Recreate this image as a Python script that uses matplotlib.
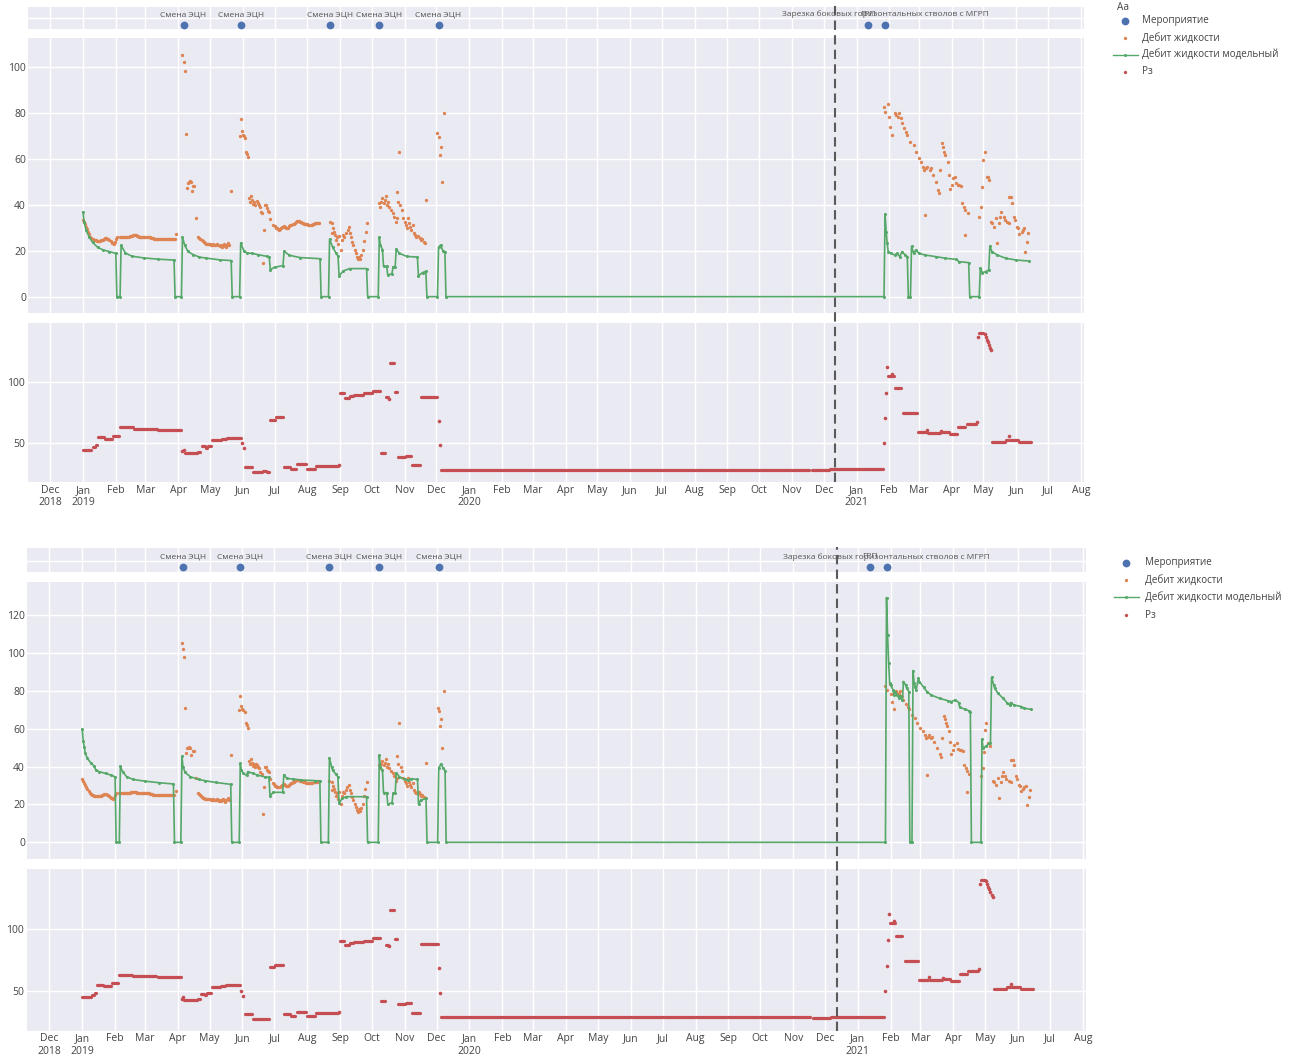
#!/usr/bin/env python3
"""Liquid rate (fact vs model) and bottom-hole pressure, two model variants."""
import matplotlib
matplotlib.use('Agg')
import matplotlib.pyplot as plt
import matplotlib.dates as mdates
from matplotlib.lines import Line2D
import pandas as pd

plt.rcParams['font.family'] = ['Open Sans', 'DejaVu Sans']

# ---------------- events ----------------
EVENT_DATES = ['2019-04-06', '2019-05-30', '2019-08-22', '2019-10-08',
               '2019-12-03', '2021-01-12', '2021-01-28']
EVENT_LABELS = ['Смена ЭЦН', 'Смена ЭЦН', 'Смена ЭЦН', 'Смена ЭЦН', 'Смена ЭЦН',
                'ГРП', 'Зарезка боковых горизонтальных стволов с МГРП']
CUT_DATE = '2020-12-12'

# ---------------- measured liquid rate ----------------
# dense daily runs: start date + daily values
ORANGE_RUN_STARTS = ['2019-01-01', '2019-02-05', '2019-04-20', '2019-06-30']
ORANGE_RUN_JAN = [33.3, 32.6, 31.5, 30.4, 29.3, 28.3, 27.2, 26.1, 25.5, 25.0, 24.8,
                  24.6, 24.5, 24.4, 24.3, 24.3, 24.4, 24.5, 24.6, 24.8, 25.0, 25.3,
                  25.4, 25.2, 24.9, 24.5, 24.0, 23.5, 23.2, 22.9, 23.6, 24.9, 25.8]
ORANGE_RUN_FEB = [25.8, 25.8, 25.9, 25.9, 26.0, 26.0, 25.9, 26.0, 26.1, 26.2, 26.3,
                  26.5, 26.7, 26.8, 26.8, 26.6, 26.4, 26.2, 26.1, 26.0, 26.0, 25.9,
                  25.9, 25.8, 25.8, 25.8, 25.8, 25.8, 25.8, 25.7, 25.6, 25.4, 25.2,
                  25.0, 24.9, 24.9, 24.9, 24.9, 24.9, 24.9, 24.9, 24.9, 24.9, 24.9,
                  24.9, 24.9, 24.9, 24.9, 24.9, 24.9, 24.9, 24.9, 24.9]
ORANGE_RUN_APR = [26.1, 25.6, 25.0, 24.5, 24.0, 23.6, 23.3, 23.1, 23.0, 23.0, 22.8,
                  22.8, 22.5, 22.6, 22.8, 22.5, 22.3, 22.5, 22.8, 22.3, 22.0, 22.5,
                  21.8, 22.2, 23.0, 22.5, 21.5, 22.5, 23.2, 22.5]
ORANGE_RUN_JUL = [31.2, 30.6, 30.0, 29.7, 29.3, 29.0, 29.4, 29.8, 30.1, 30.4, 30.7,
                  30.4, 30.0, 29.7, 30.0, 30.5, 31.0, 31.2, 31.5, 31.8, 31.9, 32.3,
                  32.8, 33.0, 32.8, 32.6, 32.4, 32.2, 32.0, 31.8, 31.6, 31.5, 31.4,
                  31.3, 31.2, 31.2, 31.3, 31.5, 31.7, 31.9, 32.0, 32.1, 32.2, 32.2]
ORANGE_RUNS = [ORANGE_RUN_JAN, ORANGE_RUN_FEB, ORANGE_RUN_APR, ORANGE_RUN_JUL]

# scattered measurements
ORANGE_DATES = [
    '2019-03-30',
    '2019-04-05', '2019-04-06', '2019-04-07', '2019-04-08', '2019-04-09', '2019-04-10',
    '2019-04-11', '2019-04-12', '2019-04-13', '2019-04-14', '2019-04-15', '2019-04-16',
    '2019-04-18', '2019-05-21',
    '2019-05-29', '2019-05-30', '2019-05-31', '2019-06-01', '2019-06-02', '2019-06-03',
    '2019-06-04', '2019-06-05', '2019-06-06',
    '2019-06-07', '2019-06-08', '2019-06-09', '2019-06-10', '2019-06-11', '2019-06-12',
    '2019-06-13', '2019-06-14', '2019-06-15', '2019-06-16', '2019-06-17', '2019-06-18',
    '2019-06-19', '2019-06-20', '2019-06-21', '2019-06-22', '2019-06-23', '2019-06-24',
    '2019-06-25', '2019-06-26', '2019-06-27',
    '2019-08-22', '2019-08-24', '2019-08-24', '2019-08-25', '2019-08-26', '2019-08-27',
    '2019-08-28', '2019-08-29', '2019-08-30', '2019-08-31', '2019-09-02', '2019-09-03',
    '2019-09-04', '2019-09-05', '2019-09-07', '2019-09-08', '2019-09-09', '2019-09-10',
    '2019-09-11', '2019-09-12', '2019-09-13', '2019-09-15', '2019-09-16', '2019-09-17',
    '2019-09-18', '2019-09-19', '2019-09-20', '2019-09-21', '2019-09-23', '2019-09-24',
    '2019-09-25', '2019-09-26',
    '2019-10-08', '2019-10-09', '2019-10-10', '2019-10-11', '2019-10-12', '2019-10-13',
    '2019-10-14', '2019-10-15', '2019-10-16', '2019-10-17', '2019-10-19', '2019-10-21',
    '2019-10-22', '2019-10-24', '2019-10-25', '2019-10-25', '2019-10-26', '2019-10-27',
    '2019-10-28', '2019-10-29', '2019-10-30', '2019-11-01', '2019-11-02', '2019-11-03',
    '2019-11-04', '2019-11-05', '2019-11-06', '2019-11-07', '2019-11-09', '2019-11-10',
    '2019-11-11', '2019-11-12', '2019-11-14', '2019-11-15', '2019-11-16', '2019-11-17',
    '2019-11-19', '2019-11-20', '2019-11-21',
    '2019-12-02', '2019-12-03', '2019-12-04', '2019-12-05', '2019-12-06', '2019-12-08',
    '2021-01-27', '2021-01-28', '2021-01-31', '2021-02-01', '2021-02-02', '2021-02-04',
    '2021-02-06', '2021-02-07', '2021-02-09', '2021-02-10', '2021-02-12', '2021-02-13',
    '2021-02-15', '2021-02-17', '2021-02-18', '2021-02-21', '2021-02-24', '2021-02-26',
    '2021-03-01', '2021-03-03', '2021-03-05', '2021-03-06', '2021-03-08', '2021-03-09',
    '2021-03-11', '2021-03-12', '2021-03-14', '2021-03-07', '2021-03-17', '2021-03-19',
    '2021-03-20', '2021-03-21', '2021-03-23', '2021-03-24', '2021-03-25', '2021-03-26',
    '2021-03-28', '2021-03-29', '2021-03-30', '2021-04-01', '2021-04-02', '2021-04-04',
    '2021-04-05', '2021-04-07', '2021-04-08', '2021-04-10', '2021-04-11', '2021-04-13',
    '2021-04-14', '2021-04-16', '2021-04-14', '2021-04-27', '2021-04-29', '2021-04-30',
    '2021-05-01', '2021-05-02', '2021-05-04', '2021-05-05', '2021-05-06', '2021-05-08',
    '2021-05-09', '2021-05-11', '2021-05-13', '2021-05-14', '2021-05-16', '2021-05-17',
    '2021-05-18', '2021-05-20', '2021-05-21', '2021-05-23', '2021-05-25', '2021-05-25',
    '2021-05-27', '2021-05-28', '2021-05-30', '2021-05-31', '2021-06-02', '2021-06-03',
    '2021-06-04', '2021-06-06', '2021-06-07', '2021-06-08', '2021-06-09', '2021-06-11',
    '2021-06-12',
]
ORANGE_VALUES = [
    27.1,
    105.1, 102.2, 98.1, 70.7, 47.1, 49.6,
    50.0, 50.4, 50.0, 46.1, 48.1, 48.1,
    34.1, 45.9,
    69.9, 77.1, 72.2, 70.3, 69.9, 68.8,
    63.0, 62.0, 60.6,
    42.8, 41.3, 43.8, 42.0, 40.3, 41.3,
    39.9, 41.5, 40.9, 40.0, 39.1, 37.0,
    36.2, 14.8, 29.0, 39.9, 39.9, 38.4,
    37.4, 37.0, 33.6,
    32.6, 31.9, 27.5, 30.0, 28.3, 26.8,
    24.6, 26.1, 22.9, 26.4, 20.3, 24.6,
    26.8, 26.1, 27.5, 29.0, 30.4, 27.5,
    26.1, 23.9, 22.5, 20.3, 18.8, 17.1,
    16.2, 17.4, 16.5, 18.1, 20.3, 24.3,
    28.3, 31.9,
    40.6, 39.1, 41.3, 42.8, 40.9, 42.0,
    43.8, 39.9, 41.3, 39.1, 37.7, 36.5,
    34.8, 32.6, 45.7, 34.1, 41.3, 63.0,
    39.9, 37.7, 34.1, 32.6, 31.2, 29.7,
    34.1, 31.9, 30.4, 29.0, 31.2, 27.8,
    26.8, 26.1, 26.4, 25.4, 24.6, 25.2,
    23.9, 23.5, 42.0,
    71.0, 69.3, 61.6, 65.2, 50.0, 80.0,
    82.6, 80.4, 83.8, 78.3, 73.9, 70.3,
    79.7, 79.0, 78.3, 79.7, 77.5, 75.4,
    73.2, 71.7, 70.3, 67.4, 65.9, 63.0,
    60.1, 58.7, 56.5, 55.1, 55.8, 56.5,
    55.1, 55.8, 52.9, 35.5, 50.0, 46.4,
    44.9, 55.1, 66.7, 65.2, 63.0, 61.6,
    58.7, 52.9, 46.7, 48.6, 51.4, 52.2,
    49.3, 48.6, 48.6, 48.1, 40.9, 39.1,
    37.7, 36.2, 26.8, 34.8, 39.1, 47.8,
    59.4, 63.0, 52.2, 52.2, 50.7, 32.6,
    31.9, 30.4, 34.1, 23.5, 31.9, 34.8,
    37.0, 34.8, 33.3, 32.6, 31.9, 43.5,
    43.5, 40.9, 34.8, 33.3, 30.4, 29.7,
    27.2, 28.3, 29.0, 29.7, 19.6, 23.9,
    27.5,
]

# ---------------- model liquid rate, variant 1 ----------------
MODEL1_DATES = [
    '2019-01-01', '2019-01-02', '2019-01-04', '2019-01-07', '2019-01-10', '2019-01-15',
    '2019-01-20', '2019-01-26', '2019-02-01', '2019-02-02', '2019-02-05', '2019-02-06',
    '2019-02-10', '2019-02-16', '2019-02-28', '2019-03-13', '2019-03-28', '2019-03-29',
    '2019-04-04', '2019-04-05', '2019-04-07', '2019-04-10', '2019-04-15', '2019-04-21',
    '2019-04-27', '2019-05-10', '2019-05-21', '2019-05-22', '2019-05-29', '2019-05-30',
    '2019-06-02', '2019-06-05', '2019-06-10', '2019-06-15', '2019-06-24', '2019-06-26',
    '2019-06-27', '2019-07-01', '2019-07-09', '2019-07-10', '2019-07-15', '2019-07-25',
    '2019-08-13', '2019-08-14', '2019-08-21', '2019-08-22', '2019-08-25', '2019-08-28',
    '2019-08-30', '2019-08-31', '2019-09-04', '2019-09-10', '2019-09-26', '2019-09-27',
    '2019-10-07', '2019-10-08', '2019-10-09', '2019-10-11', '2019-10-12', '2019-10-15',
    '2019-10-16', '2019-10-20', '2019-10-21', '2019-10-23', '2019-10-24', '2019-10-27',
    '2019-11-03', '2019-11-13', '2019-11-14', '2019-11-18', '2019-11-21', '2019-11-22',
    '2019-12-02', '2019-12-03', '2019-12-05', '2019-12-07', '2019-12-09', '2019-12-10',
    '2021-01-27', '2021-01-28', '2021-01-29', '2021-01-30', '2021-01-31', '2021-02-03',
    '2021-02-06', '2021-02-08', '2021-02-11', '2021-02-13', '2021-02-16', '2021-02-18',
    '2021-02-19', '2021-02-21', '2021-02-22', '2021-02-24', '2021-02-26', '2021-03-01',
    '2021-03-07', '2021-03-17', '2021-03-26', '2021-04-05', '2021-04-08', '2021-04-17',
    '2021-04-18', '2021-04-27', '2021-04-28', '2021-04-30', '2021-05-03', '2021-05-06',
    '2021-05-07', '2021-05-09', '2021-05-14', '2021-05-22', '2021-06-01', '2021-06-13',
]
MODEL1_VALUES = [
    36.8, 32.5, 28.8, 25.8, 23.6, 21.4,
    20.3, 19.6, 18.8, 0.0, 0.0, 22.3,
    19.0, 17.6, 16.8, 16.3, 15.9, 0.0,
    0.0, 25.8, 22.6, 19.7, 18.3, 17.2,
    16.8, 16.0, 15.7, 0.0, 0.0, 23.3,
    20.0, 19.0, 18.8, 18.3, 17.5, 17.2,
    11.7, 12.8, 13.5, 19.7, 18.0, 17.0,
    16.5, 0.0, 0.0, 25.0, 21.4, 19.0,
    17.6, 9.1, 11.2, 12.2, 12.2, 0.0,
    0.0, 25.8, 22.5, 20.5, 13.2, 13.2,
    9.4, 10.0, 13.0, 13.0, 20.7, 18.8,
    17.5, 17.2, 9.1, 10.5, 11.0, 0.0,
    0.0, 21.4, 22.5, 20.0, 19.5, 0.0,
    0.0, 35.9, 28.3, 23.2, 19.6, 18.8,
    18.1, 18.8, 17.4, 19.6, 18.1, 17.4,
    0.0, 0.0, 21.9, 18.8, 20.3, 18.8,
    18.1, 17.4, 16.7, 16.2, 15.2, 14.8,
    0.0, 0.0, 12.5, 10.4, 10.9, 11.6,
    21.9, 19.6, 18.1, 16.7, 15.9, 15.5,
]

# ---------------- model liquid rate, variant 2 ----------------
MODEL2_DATES = [
    '2019-01-01', '2019-01-02', '2019-01-03', '2019-01-04', '2019-01-06', '2019-01-09',
    '2019-01-12', '2019-01-14', '2019-01-17', '2019-01-23', '2019-01-28', '2019-02-01',
    '2019-02-02', '2019-02-05', '2019-02-06', '2019-02-08', '2019-02-12', '2019-02-18',
    '2019-03-01', '2019-03-14', '2019-03-28', '2019-03-29', '2019-04-04', '2019-04-05',
    '2019-04-06', '2019-04-08', '2019-04-13', '2019-04-21', '2019-04-27', '2019-05-07',
    '2019-05-21', '2019-05-22', '2019-05-29', '2019-05-30', '2019-05-31', '2019-06-02',
    '2019-06-05', '2019-06-06', '2019-06-11', '2019-06-15', '2019-06-22', '2019-06-26',
    '2019-06-27', '2019-06-30', '2019-07-09', '2019-07-10', '2019-07-13', '2019-07-19',
    '2019-07-26', '2019-08-08', '2019-08-13', '2019-08-14', '2019-08-21', '2019-08-22',
    '2019-08-24', '2019-08-25', '2019-08-28', '2019-08-30', '2019-08-31', '2019-09-03',
    '2019-09-07', '2019-09-26', '2019-09-27', '2019-10-07', '2019-10-08', '2019-10-09',
    '2019-10-11', '2019-10-12', '2019-10-15', '2019-10-16', '2019-10-20', '2019-10-21',
    '2019-10-23', '2019-10-24', '2019-10-27', '2019-11-01', '2019-11-04', '2019-11-07',
    '2019-11-13', '2019-11-14', '2019-11-16', '2019-11-21', '2019-11-22', '2019-12-02',
    '2019-12-03', '2019-12-05', '2019-12-07', '2019-12-09', '2019-12-10',
    '2021-01-27', '2021-01-28', '2021-01-29', '2021-01-30', '2021-01-31', '2021-02-01',
    '2021-02-03', '2021-02-04', '2021-02-05', '2021-02-07', '2021-02-09', '2021-02-10',
    '2021-02-12', '2021-02-13', '2021-02-15', '2021-02-16', '2021-02-18', '2021-02-19',
    '2021-02-21', '2021-02-22', '2021-02-23', '2021-02-24', '2021-02-25', '2021-02-27',
    '2021-02-28', '2021-03-04', '2021-03-07', '2021-03-11', '2021-03-19', '2021-03-27',
    '2021-03-30', '2021-04-03', '2021-04-06', '2021-04-07', '2021-04-12', '2021-04-16',
    '2021-04-17', '2021-04-18', '2021-04-27', '2021-04-28', '2021-04-29', '2021-05-02',
    '2021-05-05', '2021-05-06', '2021-05-07', '2021-05-09', '2021-05-10', '2021-05-13',
    '2021-05-18', '2021-05-22', '2021-05-24', '2021-05-25', '2021-05-28', '2021-06-04',
    '2021-06-07', '2021-06-13',
]
MODEL2_VALUES = [
    59.8, 53.4, 50.1, 46.9, 44.3, 42.0,
    40.4, 38.1, 37.3, 36.4, 35.5, 34.6,
    0.0, 0.0, 40.2, 37.3, 34.6, 33.2,
    32.3, 31.5, 30.8, 0.0, 0.0, 45.5,
    39.9, 36.9, 34.6, 33.2, 32.5, 31.6,
    30.6, 0.0, 0.0, 41.7, 38.1, 36.4,
    35.3, 37.3, 36.4, 35.5, 34.6, 34.3,
    24.5, 26.4, 26.4, 35.5, 33.7, 33.4,
    32.9, 32.6, 32.3, 0.0, 0.0, 44.6,
    39.9, 38.1, 36.0, 34.6, 20.6, 23.2,
    24.1, 24.1, 0.0, 0.0, 46.0, 39.9,
    38.1, 26.2, 26.2, 20.0, 21.0, 26.0,
    26.0, 36.7, 34.6, 33.2, 32.9, 33.6,
    33.2, 20.0, 22.3, 23.2, 0.0, 0.0,
    39.2, 41.3, 39.4, 37.8, 0.0,
    0.0, 129.2, 109.5, 94.9, 84.0, 83.1,
    80.5, 77.8, 79.6, 77.8, 76.0, 77.3,
    75.2, 84.9, 83.1, 81.3, 79.6, 0.0,
    0.0, 90.7, 84.0, 82.2, 80.5, 86.6,
    84.9, 81.9, 79.6, 77.8, 76.0, 74.8,
    74.3, 75.2, 73.8, 71.3, 70.2, 69.4,
    69.0, 0.0, 0.0, 54.4, 49.6, 50.9,
    52.3, 52.6, 87.1, 83.1, 81.3, 78.7,
    76.0, 73.4, 72.5, 73.8, 72.5, 71.7,
    70.8, 70.2,
]

# ---------------- bottom-hole pressure ----------------
# flat stretches: first day, last day, level
PZ_STEP_START = [
    '2019-01-01', '2019-01-10', '2019-01-13', '2019-01-15', '2019-01-22', '2019-01-29',
    '2019-02-05', '2019-02-18', '2019-03-13', '2019-03-25', '2019-04-07', '2019-04-20',
    '2019-04-23', '2019-04-27', '2019-04-29', '2019-05-03', '2019-05-12', '2019-05-17',
    '2019-06-03', '2019-06-11', '2019-06-20', '2019-06-24', '2019-06-27', '2019-07-02',
    '2019-07-10', '2019-07-17', '2019-07-22', '2019-08-01', '2019-08-09', '2019-09-01',
    '2019-09-06', '2019-09-10', '2019-09-14', '2019-09-19', '2019-09-24', '2019-10-02',
    '2019-10-10', '2019-10-14', '2019-10-18', '2019-10-23', '2019-10-26', '2019-11-02',
    '2019-11-08', '2019-11-16', '2019-12-05', '2020-11-20', '2020-12-07', '2021-01-31',
    '2021-02-06', '2021-02-14', '2021-02-28', '2021-03-10', '2021-03-23', '2021-03-30',
    '2021-04-07', '2021-04-15', '2021-04-27', '2021-05-09', '2021-05-22', '2021-05-26',
    '2021-06-04',
]
PZ_STEP_END = [
    '2019-01-09', '2019-01-12', '2019-01-14', '2019-01-21', '2019-01-28', '2019-02-04',
    '2019-02-17', '2019-03-12', '2019-03-24', '2019-04-04', '2019-04-19', '2019-04-22',
    '2019-04-26', '2019-04-28', '2019-05-02', '2019-05-11', '2019-05-16', '2019-05-30',
    '2019-06-10', '2019-06-19', '2019-06-23', '2019-06-26', '2019-07-01', '2019-07-09',
    '2019-07-16', '2019-07-21', '2019-07-31', '2019-08-08', '2019-08-30', '2019-09-05',
    '2019-09-09', '2019-09-13', '2019-09-18', '2019-09-23', '2019-10-01', '2019-10-09',
    '2019-10-13', '2019-10-16', '2019-10-22', '2019-10-25', '2019-11-01', '2019-11-07',
    '2019-11-15', '2019-12-02', '2020-11-17', '2020-12-06', '2021-01-26', '2021-02-05',
    '2021-02-12', '2021-02-27', '2021-03-08', '2021-03-21', '2021-03-29', '2021-04-06',
    '2021-04-14', '2021-04-24', '2021-05-01', '2021-05-21', '2021-05-24', '2021-06-03',
    '2021-06-15',
]
PZ_STEP_LEVEL = [
    45.1, 46.8, 48.6, 54.9, 53.5, 56.2,
    63.0, 61.6, 61.2, 60.8, 42.3, 43.2,
    47.8, 46.6, 48.2, 52.7, 53.5, 54.6,
    31.1, 27.0, 27.5, 27.0, 68.9, 71.1,
    31.1, 29.7, 33.0, 29.7, 31.9, 90.5,
    87.0, 88.4, 89.2, 89.0, 90.5, 92.7,
    41.9, 87.3, 114.9, 91.9, 39.2, 40.0,
    32.2, 87.8, 28.8, 28.4, 29.2, 105.0,
    94.6, 74.3, 58.9, 58.6, 59.2, 57.6,
    63.5, 65.7, 139.7, 51.4, 53.0, 52.7,
    51.4,
]
# single readings between the flat stretches
PZ_POINT_DATES = [
    '2019-04-05', '2019-04-06', '2019-05-31', '2019-06-02', '2019-08-31', '2019-10-17',
    '2019-12-03', '2019-12-04', '2021-01-27', '2021-01-28', '2021-01-29', '2021-01-30',
    '2021-02-04', '2021-03-09', '2021-03-22', '2021-04-25', '2021-04-26', '2021-05-02',
    '2021-05-03', '2021-05-04', '2021-05-05', '2021-05-06', '2021-05-07', '2021-05-08',
    '2021-05-25',
]
PZ_POINT_VALUES = [
    43.8, 44.8, 50.0, 46.0, 32.6, 86.0,
    68.1, 48.6, 50.0, 70.3, 91.1, 111.6,
    106.2, 60.8, 60.0, 67.6, 136.5, 138.5,
    136.2, 134.0, 131.8, 129.6, 127.6, 125.7,
    55.9,
]

LEGEND_LABELS = ['Мероприятие', 'Дебит жидкости', 'Дебит жидкости модельный', 'Рз']

# ---------------- styling ----------------
W, H = 1293, 1061
BLUE, ORANGE, GREEN, RED = '#4C72B0', '#DD8452', '#55A868', '#C44E52'
BG = '#EAEAF2'
TXT = '#444444'
XLIM = (mdates.date2num(pd.Timestamp('2018-11-10')),
        mdates.date2num(pd.Timestamp('2021-08-04')))
MONTHS = pd.date_range('2018-12-01', '2021-08-01', freq='MS')
MONTH_LABELS = [d.strftime('%b') + ('\n%d' % d.year if (d.month == 1 or i == 0) else '')
                for i, d in enumerate(MONTHS)]


def fx(x):
    return x / W


def fy(y):
    return 1 - y / H


def rect(x0, y0, x1, y1):
    return [x0 / W, 1 - y1 / H, (x1 - x0) / W, (y1 - y0) / H]


def panel(fig, box, ylim):
    ax = fig.add_axes(rect(*box))
    ax.set_facecolor(BG)
    for s in ax.spines.values():
        s.set_visible(False)
    ax.set_xlim(XLIM)
    ax.set_ylim(ylim)
    ax.set_xticks(mdates.date2num(MONTHS))
    ax.grid(True, color='white', linewidth=1.0)
    ax.set_axisbelow(True)
    ax.tick_params(length=0, labelsize=7.5, labelcolor=TXT, pad=1.5,
                   labelbottom=False)
    return ax


def dates(seq):
    return mdates.date2num(pd.to_datetime(seq))


def draw_block(fig, lay, model_dates, model_values):
    x0, x1 = lay['x']

    # event strip
    ax_ev = panel(fig, (x0, lay['strip'][0], x1, lay['strip'][1]), (0, 1))
    ax_ev.set_yticks([lay['grid_y']])
    ax_ev.tick_params(labelleft=False)
    ev = dates(EVENT_DATES)
    ax_ev.plot(ev, [lay['dot_y']] * len(ev), 'o', color=BLUE, ms=5.6, mew=0)
    for d, lbl in zip(ev, EVENT_LABELS):
        ax_ev.text(d, lay['text_y'], lbl, ha='center', va='center',
                   fontsize=6.0, color='#555555')

    # liquid rate
    ax_q = panel(fig, (x0, lay['rate'][0], x1, lay['rate'][1]), lay['rate_ylim'])
    ax_q.set_yticks(lay['rate_ticks'])
    for start, vals in zip(ORANGE_RUN_STARTS, ORANGE_RUNS):
        days = pd.date_range(start, periods=len(vals), freq='D')
        ax_q.plot(mdates.date2num(days), vals, 'o', color=ORANGE, ms=2.4,
                  mew=0, zorder=3)
    ax_q.plot(dates(ORANGE_DATES), ORANGE_VALUES, 'o', color=ORANGE, ms=2.4,
              mew=0, zorder=3)
    ax_q.plot(dates(model_dates), model_values, '-o', color=GREEN, lw=1.2,
              ms=2.2, mew=0, zorder=4)

    # bottom-hole pressure
    ax_p = panel(fig, (x0, lay['pz'][0], x1, lay['pz'][1]), lay['pz_ylim'])
    ax_p.set_yticks([50, 100])
    ax_p.hlines(PZ_STEP_LEVEL, dates(PZ_STEP_START), dates(PZ_STEP_END),
                colors=RED, lw=2.3, capstyle='round', zorder=3)
    ax_p.plot(dates(PZ_POINT_DATES), PZ_POINT_VALUES, 'o', color=RED, ms=2.6,
              mew=0, zorder=3)
    ax_p.set_xticklabels(MONTH_LABELS)
    ax_p.tick_params(labelbottom=True, pad=2)

    # dashed marker across all three panels
    ax_cut = fig.add_axes(rect(x0, lay['strip'][0] - 1.5, x1, lay['pz'][1]))
    ax_cut.set_xlim(XLIM)
    ax_cut.axis('off')
    ax_cut.patch.set_alpha(0)
    ax_cut.axvline(mdates.date2num(pd.Timestamp(CUT_DATE)), color='#5a5a5a',
                   lw=1.5, ls=(0, (4.5, 2.5)))

    # legend
    mx, tx = lay['leg_x']
    ys = lay['leg_y']
    if lay['aa']:
        fig.text(fx(mx - 2), fy(lay['aa']), 'Aa', fontsize=7.2, color=TXT,
                 ha='center', va='center')
    fig.add_artist(Line2D([fx(mx)], [fy(ys[0])], marker='o', ms=5.6, mew=0,
                          color=BLUE, transform=fig.transFigure))
    fig.add_artist(Line2D([fx(mx)], [fy(ys[1])], marker='o', ms=2.4, mew=0,
                          color=ORANGE, transform=fig.transFigure))
    fig.add_artist(Line2D([fx(mx - 12), fx(mx + 13)], [fy(ys[2])] * 2, lw=1.0,
                          color=GREEN, transform=fig.transFigure))
    fig.add_artist(Line2D([fx(mx)], [fy(ys[2])], marker='o', ms=2.2, mew=0,
                          color=GREEN, transform=fig.transFigure))
    fig.add_artist(Line2D([fx(mx)], [fy(ys[3])], marker='o', ms=2.4, mew=0,
                          color=RED, transform=fig.transFigure))
    for y, lbl in zip(ys, LEGEND_LABELS):
        fig.text(fx(tx), fy(y), lbl, fontsize=7.1, color=TXT, va='center')


def main():
    fig = plt.figure(figsize=(W / 100, H / 100), dpi=100)

    top = dict(x=(28, 1084), strip=(6.7, 29.3), rate=(38.3, 313), pz=(322.5, 482),
               rate_ylim=(-7.1, 112.3), rate_ticks=[0, 20, 40, 60, 80, 100],
               pz_ylim=(18.8, 147.9), dot_y=0.2, text_y=0.65, grid_y=0.51,
               leg_x=(1125, 1142), leg_y=[20.7, 38.3, 54.5, 71.7], aa=7.0)
    bottom = dict(x=(27, 1086), strip=(548.3, 571.7), rate=(581.7, 859),
                  pz=(869.3, 1030.5), rate_ylim=(-8.8, 137.6),
                  rate_ticks=[0, 20, 40, 60, 80, 100, 120],
                  pz_ylim=(18.0, 148.0), dot_y=0.19, text_y=0.64, grid_y=0.47,
                  leg_x=(1126, 1145), leg_y=[562.7, 580, 597.3, 615], aa=None)

    draw_block(fig, top, MODEL1_DATES, MODEL1_VALUES)
    draw_block(fig, bottom, MODEL2_DATES, MODEL2_VALUES)

    fig.savefig('out.png', dpi=100, facecolor='white')
    print('Saved: out.png')


if __name__ == '__main__':
    main()
